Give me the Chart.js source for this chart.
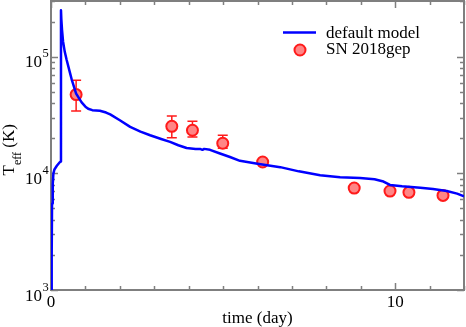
<!DOCTYPE html>
<html><head><meta charset="utf-8">
<script src="https://cdn.jsdelivr.net/npm/chart.js@4/dist/chart.umd.min.js"></script>
<style>html,body{margin:0;padding:0;background:#fff}#wrap{width:466px;height:327px;position:relative}</style>
</head><body><div id="wrap"><canvas id="c"></canvas></div>
<script>
// ---- data ----
const modelDays = [0, 0.02, 0.03, 0.05, 0.07, 0.10, 0.17, 0.26, 0.28, 0.29, 0.30, 0.32, 0.35, 0.40, 0.45, 0.55, 0.60, 0.73, 0.89, 1.00, 1.08, 1.20, 1.42, 1.60, 1.72, 2.00, 2.30, 2.60, 2.88, 3.20, 3.46, 3.70, 3.94, 4.20, 4.33, 4.40, 4.45, 4.62, 4.91, 5.20, 5.49, 6.00, 6.66, 7.20, 7.82, 8.40, 8.98, 9.40, 9.66, 9.85, 10.20, 10.73, 11.10, 11.50, 11.80, 12.0];
const modelTeff = [1000, 2000, 5500, 8000, 10000, 10800, 11600, 12500, 12600, 250000, 210000, 170000, 135000, 110000, 95000, 73000, 64000, 48300, 40500, 37300, 35800, 34800, 34400, 33200, 32000, 28500, 25000, 22800, 21200, 19700, 18600, 17400, 16500, 16200, 16200, 15900, 16200, 15900, 14800, 13800, 12800, 12100, 11300, 10400, 9620, 9250, 9120, 8900, 8500, 7950, 7750, 7540, 7350, 7050, 6700, 6350];
const obsDays = [0.73, 3.51, 4.11, 4.99, 6.15, 8.81, 9.85, 10.40, 11.39];
const obsTeff = [47300, 25300, 23400, 18100, 12500, 7480, 7050, 6870, 6470];
const obsTeffHigh = [62800, 31000, 27900, 21200, null, null, null, null, null];
const obsTeffLow = [34300, 20200, 20500, 16400, null, null, null, null, null];
const xMajorTicks = [0, 10];
const xTickLabels = ['0', '10'];
const yMajorExponents = [3, 4, 5];
const seriesNames = ['default model', 'SN 2018gep'];
const xTitle = 'time (day)';

const FONT = '"Liberation Serif", "DejaVu Serif", serif';
const AXIS = '#7f7f7f';

const decor = {
  id: 'decor',
  beforeDatasetsDraw(chart) {
    const {ctx, chartArea: a, scales: {x, y}} = chart;
    ctx.save();
    ctx.strokeStyle = AXIS;
    ctx.lineWidth = 1.5;
    for (let d = 0; d <= 12; d++) {
      const px = Math.round(x.getPixelForValue(d)) + 0.5;
      const len = xMajorTicks.includes(d) ? 7 : 4;
      ctx.beginPath();
      ctx.moveTo(px, a.bottom); ctx.lineTo(px, a.bottom - len);
      ctx.moveTo(px, a.top); ctx.lineTo(px, a.top + len);
      ctx.stroke();
    }
    for (const e of yMajorExponents) {
      for (let m = 1; m <= 9; m++) {
        const v = m * Math.pow(10, e);
        if (v > y.max) continue;
        const py = Math.round(y.getPixelForValue(v)) + 0.5;
        const len = m === 1 ? 7 : 4;
        ctx.beginPath();
        ctx.moveTo(a.left, py); ctx.lineTo(a.left + len, py);
        ctx.moveTo(a.right, py); ctx.lineTo(a.right - len, py);
        ctx.stroke();
      }
    }
    ctx.lineWidth = 2;
    ctx.strokeRect(a.left, a.top, a.right - a.left, a.bottom - a.top);
    ctx.restore();
  },
  beforeDatasetDraw(chart, args) {
    if (args.index !== 1) return;
    const {ctx, scales: {x, y}} = chart;
    ctx.save();
    ctx.strokeStyle = '#ff1a1a';
    ctx.lineWidth = 1.5;
    obsDays.forEach((d, i) => {
      if (obsTeffHigh[i] == null) return;
      const px = x.getPixelForValue(d);
      const pt = y.getPixelForValue(obsTeffHigh[i]);
      const pb = y.getPixelForValue(obsTeffLow[i]);
      ctx.beginPath();
      ctx.moveTo(px, pt); ctx.lineTo(px, pb);
      ctx.moveTo(px - 5, pt); ctx.lineTo(px + 5, pt);
      ctx.moveTo(px - 5, pb); ctx.lineTo(px + 5, pb);
      ctx.stroke();
    });
    ctx.restore();
  },
  afterDraw(chart) {
    const {ctx, chartArea: a, scales: {x, y}} = chart;
    ctx.save();
    ctx.fillStyle = '#000';
    for (const e of yMajorExponents) {
      const py = y.getPixelForValue(Math.pow(10, e));
      ctx.font = '17px ' + FONT;
      ctx.textAlign = 'right'; ctx.textBaseline = 'alphabetic';
      ctx.fillText('10', a.left - 9, py + 10.5);
      ctx.font = '12.5px ' + FONT;
      ctx.textAlign = 'left';
      ctx.fillText(String(e), a.left - 8.5, py + 0.5);
    }
    ctx.font = '17px ' + FONT;
    ctx.textAlign = 'center';
    xMajorTicks.forEach((d, i) => {
      ctx.fillText(xTickLabels[i], x.getPixelForValue(d), a.bottom + 17);
    });
    ctx.fillText(xTitle, (a.left + a.right) / 2, a.bottom + 33);
    ctx.save();
    ctx.rotate(-Math.PI / 2);
    ctx.textAlign = 'left';
    let u = -175.5;
    ctx.font = '17px ' + FONT;
    ctx.fillText('T', u, 13.5);
    u += ctx.measureText('T').width;
    ctx.font = '12px ' + FONT;
    ctx.fillText('eff', u, 20.5);
    u += ctx.measureText('eff').width;
    ctx.font = '17px ' + FONT;
    ctx.fillText(' (K)', u, 13.5);
    ctx.restore();
    // legend
    ctx.strokeStyle = '#0000ff';
    ctx.lineWidth = 2.5;
    ctx.beginPath(); ctx.moveTo(283, 32.5); ctx.lineTo(316, 32.5); ctx.stroke();
    ctx.beginPath(); ctx.arc(300, 50, 5.5, 0, Math.PI * 2);
    ctx.fillStyle = '#ff8585'; ctx.fill();
    ctx.strokeStyle = '#ff1a1a'; ctx.lineWidth = 2; ctx.stroke();
    ctx.fillStyle = '#000';
    ctx.textAlign = 'left';
    ctx.font = '17px ' + FONT;
    ctx.fillText(seriesNames[0], 326, 37.5);
    ctx.fillText(seriesNames[1], 326, 53.5);
    ctx.restore();
  }
};

new Chart(document.getElementById('c'), {
  type: 'scatter',
  data: {
    datasets: [
      {
        label: seriesNames[0],
        data: modelDays.map((d, i) => ({x: d, y: modelTeff[i]})),
        showLine: true,
        borderColor: '#0000ff',
        borderWidth: 2.5,
        borderJoinStyle: 'round',
        pointRadius: 0,
        tension: 0,
        fill: false
      },
      {
        label: seriesNames[1],
        data: obsDays.map((d, i) => ({x: d, y: obsTeff[i]})),
        showLine: false,
        pointRadius: 5.5,
        pointBackgroundColor: '#ff8585',
        pointBorderColor: '#ff1a1a',
        pointBorderWidth: 2
      }
    ]
  },
  options: {
    responsive: true,
    maintainAspectRatio: false,
    animation: false,
    devicePixelRatio: 1,
    layout: {autoPadding: false, padding: {top: 1, right: 2, left: 0, bottom: 0}},
    plugins: {legend: {display: false}, tooltip: {enabled: false}},
    scales: {
      x: {
        type: 'linear', min: 0, max: 12,
        grid: {display: false}, border: {display: false},
        ticks: {display: false},
        afterFit(s) { s.height = 37; }
      },
      y: {
        type: 'logarithmic', min: 1000, max: 300000,
        grid: {display: false}, border: {display: false},
        ticks: {display: false},
        afterFit(s) { s.width = 51; }
      }
    }
  },
  plugins: [decor]
});
</script>
</body></html>
